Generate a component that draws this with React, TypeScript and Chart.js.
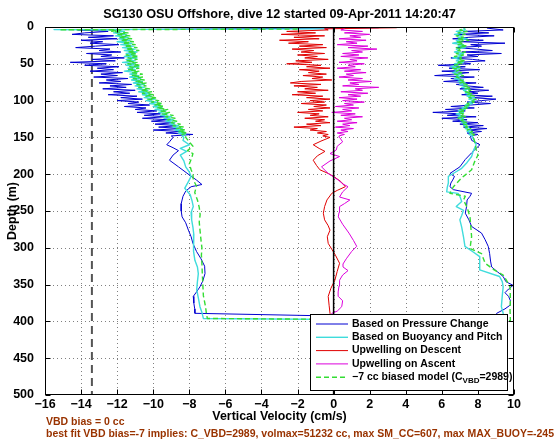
import React, { useEffect, useRef } from "react";
import { Chart, registerables } from "chart.js";

Chart.register(...registerables);

const FONT = '"Liberation Sans", Arial, Helvetica, sans-serif';

const titleText = "SG130 OSU Offshore, dive 12 started 09-Apr-2011 14:20:47";
const xTitle = "Vertical Velocity (cm/s)";
const yTitle = "Depth (m)";
const noteLine1 = "VBD bias = 0 cc";
const noteLine2 = "best fit VBD bias=-7 implies: C_VBD=2989, volmax=51232 cc, max SM_CC=607, max MAX_BUOY=-245";
const legendLabels = [
  "Based on Pressure Change",
  "Based on Buoyancy and Pitch",
  "Upwelling on Descent",
  "Upwelling on Ascent",
  "\u22127 cc biased model (C",
];
const vbdReference = -13.4;

// depth samples (m) of the noisy near-surface part
const noisyDepths = [4, 6, 8, 10, 12, 14, 16, 18, 20, 22, 24, 26, 28, 30, 32, 34, 36, 38, 40, 42, 44, 46, 48, 50, 52, 54, 56, 58, 60, 62, 64, 66, 68, 70, 72, 74, 76, 78, 80, 82, 84, 86, 88, 90, 92, 94, 96, 98, 100, 102, 104, 106, 108, 110, 112, 114, 116, 118, 120, 122, 124, 126, 128, 130, 132, 134, 136, 138, 140, 142, 144, 146, 148];

// ---- Based on Pressure Change (blue)
const blueTop = [[1.0, 2.5]];
const blueDescNoisy = [-14.2, -12.5, -13.8, -14.5, -12.2, -13.6, -12.0, -14.0, -12.8, -13.5,
  -11.9, -13.2, -14.3, -12.4, -13.0, -11.8, -13.7, -12.3, -12.9, -11.6,
  -13.4, -12.1, -14.6, -12.6, -13.8, -11.9, -13.1, -12.2, -13.5, -11.7,
  -12.9, -12.0, -13.3, -11.4, -12.6, -11.8, -13.0, -11.2, -12.4, -11.5,
  -12.8, -11.0, -12.2, -11.3, -12.5, -10.9, -11.8, -10.6, -12.0, -10.8,
  -11.4, -10.2, -11.6, -10.4, -11.0, -9.8, -10.9, -9.6, -10.5, -9.3,
  -10.6, -9.2, -10.1, -8.8, -9.9, -8.6, -9.7, -8.4, -10.0, -8.5,
  -9.3, -7.8, -9.0];
const blueDescSmooth = [[150, -8.9], [156, -9.1], [160, -9.25], [164, -8.9], [168, -8.6], [174, -8.9], [181, -9.1], [190, -8.6], [201, -8.0], [208, -7.6], [214, -7.3], [217, -7.9], [223, -8.2], [230, -8.35], [240, -8.45], [250, -8.45], [258, -8.4], [266, -8.2], [276, -8.05], [285, -7.9], [294, -7.8], [305, -7.6], [315, -7.35], [325, -7.15], [335, -7.13], [345, -7.25], [353, -7.41], [360, -7.6], [366, -7.78], [375, -7.75], [383, -7.7], [389, -7.69]];
const blueAscSmooth = [[150, 7.6], [154, 7.65], [160, 8.11], [165, 7.9], [171, 7.65], [180, 7.3], [190, 7.0], [199, 6.45], [203, 6.7], [208, 6.6], [212, 6.5], [217, 6.45], [221, 6.64], [226, 7.65], [230, 7.56], [235, 7.4], [244, 7.37], [253, 7.3], [262, 7.5], [271, 7.65], [280, 8.2], [289, 8.4], [298, 8.57], [308, 8.65], [318, 8.7], [326, 8.76], [333, 9.1], [339, 9.4], [346, 9.55], [351, 9.95], [356, 9.7], [361, 9.5], [366, 9.7], [372, 9.8], [378, 9.78], [383, 9.5], [389, 9.04], [397, 9.0]];
const blueAscNoisy = [9.4, 7.2, 8.6, 6.9, 8.9, 7.5, 6.6, 8.3, 7.0, 9.5,
  7.6, 8.2, 6.8, 7.9, 8.8, 7.1, 9.3, 7.4, 8.0, 6.5,
  7.7, 8.4, 6.9, 7.6, 5.8, 7.3, 6.4, 8.1, 6.0, 7.5,
  6.7, 5.6, 7.8, 6.5, 7.2, 6.1, 7.9, 6.8, 7.4, 8.3,
  7.0, 8.6, 7.5, 8.0, 7.1, 8.8, 7.6, 9.0, 8.2, 7.4,
  8.7, 7.6, 6.5, 7.8, 6.2, 7.3, 5.5, 7.0, 6.3, 7.9,
  6.0, 7.4, 6.6, 8.0, 7.0, 8.3, 7.2, 8.5, 7.5, 8.2,
  7.4, 8.0, 7.6];
const blueEnd = [[1.5, 8.5]];

// ---- Based on Buoyancy and Pitch (cyan)
const cyanTop = [[2.5, -0.5], [3.5, -15.5]];
const cyanDescNoisy = [-12.4, -11.6, -12.2, -11.5, -12.1, -11.4, -11.9, -11.3, -12.0, -11.2,
  -11.8, -11.1, -11.7, -11.0, -11.6, -10.9, -11.5, -11.0, -11.6, -10.9,
  -11.5, -11.0, -11.7, -11.0, -11.5, -10.8, -11.4, -11.0, -11.6, -10.9,
  -11.3, -10.8, -11.3, -10.7, -11.2, -10.6, -11.1, -10.5, -11.0, -10.5,
  -10.9, -10.3, -10.8, -10.2, -10.6, -10.1, -10.5, -9.9, -10.4, -9.8,
  -10.2, -9.6, -10.0, -9.5, -9.9, -9.3, -9.7, -9.2, -9.6, -9.0,
  -9.4, -8.9, -9.3, -8.8, -9.1, -8.6, -8.9, -8.4, -8.8, -8.3,
  -8.6, -8.2, -8.4];
const cyanDescSmooth = [[150, -8.3], [154, -8.35], [160, -8.0], [165, -8.5], [169, -8.15], [174, -8.5], [182, -8.3], [190, -8.2], [197, -8.0], [203, -7.9], [210, -8.05], [219, -8.25], [228, -7.95], [236, -7.85], [244, -7.78], [252, -7.9], [262, -7.87], [272, -7.8], [282, -7.75], [294, -7.78], [305, -7.75], [317, -7.69], [326, -7.55], [335, -7.5], [346, -7.55], [357, -7.59], [368, -7.5], [380, -7.41], [388, -7.3], [396, -7.22]];
const cyanAscSmooth = [[150, 7.7], [155, 7.8], [160, 7.9], [168, 7.75], [176, 7.65], [184, 7.4], [192, 7.1], [198, 6.7], [203, 6.36], [212, 6.36], [218, 6.3], [224, 6.27], [226, 6.9], [230, 7.0], [237, 7.1], [244, 6.8], [249, 7.2], [256, 7.1], [262, 7.0], [272, 7.1], [285, 7.2], [298, 7.28], [305, 7.7], [312, 8.1], [322, 8.1], [330, 8.1], [339, 9.2], [346, 9.35], [353, 9.4], [365, 9.35], [380, 9.3], [389, 9.4], [399, 9.4]];
const cyanAscNoisy = [7.3, 6.8, 7.2, 6.7, 7.1, 6.9, 7.4, 6.8, 7.0, 6.6,
  7.2, 6.9, 7.3, 6.8, 7.0, 6.7, 7.2, 6.9, 7.1, 6.6,
  7.0, 6.8, 7.2, 6.7, 6.9, 6.5, 7.0, 6.7, 6.9, 6.6,
  7.1, 6.8, 7.0, 6.7, 7.2, 6.9, 7.3, 7.0, 7.4, 7.1,
  7.5, 7.2, 7.4, 7.3, 7.6, 7.4, 7.8, 7.5, 7.8, 7.5,
  7.7, 7.3, 7.5, 7.1, 7.3, 6.9, 7.2, 6.8, 7.1, 6.9,
  7.2, 7.0, 7.3, 7.1, 7.4, 7.2, 7.5, 7.3, 7.6, 7.4,
  7.7, 7.5, 7.7];
const cyanEnd = [[1.5, 7.2]];

// ---- Upwelling on Descent (red)
const redTop = [[1.0, 3.5], [2.5, -0.5]];
const redNoisy = [-0.3, -2.6, -1.0, -2.9, -0.5, -2.2, -0.8, -3.0, -1.4, -2.5,
  -0.6, -1.9, -0.4, -2.3, -1.1, -1.8, -0.5, -2.0, -0.9, -1.6,
  -0.3, -2.1, -1.2, -2.6, -0.7, -1.5, -0.2, -1.9, -0.8, -1.4,
  -0.4, -1.7, -0.6, -1.2, -0.1, -1.8, -2.4, -0.7, -2.2, -0.9,
  -1.6, -0.3, -2.0, -1.0, -2.3, -0.6, -1.5, -0.2, -1.3, -0.5,
  -1.8, -0.4, -1.1, -0.2, -1.4, -0.6, -2.0, -0.8, -1.3, -0.3,
  -1.6, -0.5, -1.0, -0.2, -1.5, -0.7, -2.2, -0.9, -1.3, -0.4,
  -0.9, -0.3, -0.6];
const redSmooth = [[150, -0.2], [155, -0.7], [160, -1.13], [165, -0.8], [169, -0.48], [175, -0.9], [181, -1.13], [188, -0.95], [194, -0.76], [199, -0.3], [203, 0.0], [210, 0.4], [217, 0.65], [222, 0.2], [226, -0.1], [235, -0.37], [244, -0.5], [253, -0.57], [262, -0.5], [270, -0.3], [276, -0.2], [285, -0.35], [294, -0.3], [302, -0.1], [310, 0.1], [321, 0.33], [332, 0.2], [344, 0.07], [355, -0.15], [366, -0.3], [378, -0.25], [389, -0.2], [398, -0.1]];

// ---- Upwelling on Ascent (magenta)
const magentaNoisy = [0.4, 1.6, 0.6, 2.0, 0.9, 1.5, 0.3, 1.8, 0.7, 1.3,
  0.2, 1.9, 0.8, 2.4, 1.0, 1.6, 0.5, 1.4, 0.4, 1.9,
  0.9, 1.3, 0.3, 1.7, 0.8, 1.2, 0.2, 1.5, 0.6, 1.8,
  0.7, 1.1, 0.3, 1.6, 0.8, 2.1, 0.9, 1.4, 0.5, 2.5,
  1.2, 1.6, 0.4, 1.9, 0.8, 1.5, 0.3, 1.3, 0.5, 1.7,
  0.6, 1.1, 0.1, 1.4, 0.5, 1.0, -0.1, 1.2, 0.4, 1.6,
  0.6, 1.0, 0.2, 1.3, 0.5, 0.9, 0.1, 1.1, 0.4, 0.8,
  0.2, 0.6, 0.3];
const magentaSmooth = [[150, 0.33], [156, 0.5], [162, 0.2], [167, 0.15], [172, -0.2], [176, 0.33], [182, -0.2], [190, -0.67], [199, -0.3], [208, 0.26], [213, 0.5], [217, 0.8], [224, 0.5], [231, 0.33], [235, 0.9], [240, 0.6], [244, 0.33], [252, 0.3], [258, 0.26], [268, 0.5], [280, 0.85], [290, 1.1], [298, 1.28], [305, 1.0], [315, 0.7], [322, 0.52], [326, 0.52], [331, 0.8], [337, 0.5], [344, 0.33], [352, 0.3], [360, 0.25], [366, 0.26], [372, 0.5], [380, 0.45], [386, 0.2], [389, -0.1], [398, 0.0]];
const magentaEnd = [[2.5, 0.6]];

// ---- -7 cc biased model (green dashed)
const greenTop = [[2.8, -2.0], [3.8, -15.2]];
const greenDescNoisy = [-11.8, -12.3, -11.4, -12.0, -11.3, -11.9, -11.2, -11.8, -11.1, -11.7,
  -11.0, -11.6, -10.9, -11.5, -10.8, -11.4, -10.9, -11.5, -10.8, -11.4,
  -10.9, -11.5, -10.9, -11.4, -10.7, -11.3, -10.8, -11.4, -10.8, -11.2,
  -10.6, -11.2, -10.6, -11.1, -10.5, -11.0, -10.4, -10.9, -10.4, -10.8,
  -10.2, -10.7, -10.1, -10.6, -10.0, -10.4, -9.8, -10.3, -9.7, -10.1,
  -9.5, -9.9, -9.4, -9.8, -9.2, -9.6, -9.1, -9.5, -8.9, -9.3,
  -8.8, -9.2, -8.7, -9.0, -8.5, -8.9, -8.3, -8.7, -8.2, -8.6,
  -8.1, -8.4, -8.2];
const greenDescSmooth = [[150, -8.2], [156, -8.0], [162, -7.8], [168, -8.1], [172, -7.8], [178, -7.87], [186, -8.0], [194, -7.9], [200, -7.8], [208, -7.78], [216, -7.6], [225, -7.7], [235, -7.55], [245, -7.45], [255, -7.4], [265, -7.45], [278, -7.4], [290, -7.35], [300, -7.3], [310, -7.33], [322, -7.3], [335, -7.28], [350, -7.25], [365, -7.22], [380, -7.1], [390, -7.05], [396, -7.0]];
const greenAscSmooth = [[150, 7.75], [158, 7.85], [166, 7.9], [174, 8.0], [184, 7.8], [194, 7.65], [205, 7.1], [217, 6.64], [226, 6.45], [230, 7.3], [235, 7.2], [245, 7.4], [258, 7.56], [270, 7.6], [285, 7.65], [301, 7.56], [308, 8.2], [321, 8.4], [330, 8.9], [337, 9.4], [345, 9.6], [353, 9.78], [370, 9.8], [385, 9.78], [399, 9.8]];
const greenAscNoisy = [7.0, 7.4, 6.9, 7.3, 6.8, 7.2, 6.9, 7.5, 6.8, 7.2,
  6.9, 7.4, 6.8, 7.1, 6.9, 7.3, 6.8, 7.2, 6.7, 7.1,
  6.9, 7.3, 6.8, 7.1, 6.7, 7.0, 6.6, 7.0, 6.8, 7.1,
  6.7, 7.2, 6.8, 7.1, 7.0, 7.3, 7.0, 7.4, 7.2, 7.6,
  7.3, 7.6, 7.3, 7.7, 7.4, 7.8, 7.5, 7.9, 7.6, 7.8,
  7.4, 7.6, 7.2, 7.4, 7.0, 7.3, 6.9, 7.2, 7.0, 7.3,
  6.9, 7.2, 7.0, 7.4, 7.2, 7.5, 7.3, 7.6, 7.4, 7.7,
  7.5, 7.8, 7.7];
const greenEnd = [[2.0, 7.3]];

const COLORS = {
  blue: "#0000d2",
  cyan: "#3fdcdc",
  red: "#e00000",
  magenta: "#dc00dc",
  green: "#33dd33",
};

type P = { x: number; y: number };
const pts = (pairs: number[][]): P[] => pairs.map(([d, v]) => ({ x: v, y: d }));
const zip = (depths: number[], vals: number[]): P[] => depths.map((d, i) => ({ x: vals[i], y: d }));
const rev = (a: P[]): P[] => a.slice().reverse();

function buildDatasets() {
  const blue = [
    ...pts(blueTop), ...zip(noisyDepths, blueDescNoisy), ...pts(blueDescSmooth),
    ...rev(pts(blueAscSmooth)), ...rev(zip(noisyDepths, blueAscNoisy)), ...pts(blueEnd),
  ];
  const cyan = [
    ...pts(cyanTop), ...zip(noisyDepths, cyanDescNoisy), ...pts(cyanDescSmooth),
    ...rev(pts(cyanAscSmooth)), ...rev(zip(noisyDepths, cyanAscNoisy)), ...pts(cyanEnd),
  ];
  const red = [...pts(redTop), ...zip(noisyDepths, redNoisy), ...pts(redSmooth)];
  const magenta = [...rev(pts(magentaSmooth)), ...rev(zip(noisyDepths, magentaNoisy)), ...pts(magentaEnd)];
  const green = [
    ...pts(greenTop), ...zip(noisyDepths, greenDescNoisy), ...pts(greenDescSmooth),
    ...rev(pts(greenAscSmooth)), ...rev(zip(noisyDepths, greenAscNoisy)), ...pts(greenEnd),
  ];
  const common = { showLine: true, pointRadius: 0, pointHoverRadius: 0, tension: 0, fill: false, borderJoinStyle: "round" as const };
  return [
    { ...common, label: legendLabels[0], data: blue, borderColor: COLORS.blue, borderWidth: 1, order: 5 },
    { ...common, label: legendLabels[1], data: cyan, borderColor: COLORS.cyan, borderWidth: 1.4, order: 4 },
    { ...common, label: legendLabels[2], data: red, borderColor: COLORS.red, borderWidth: 1, order: 3 },
    { ...common, label: legendLabels[3], data: magenta, borderColor: COLORS.magenta, borderWidth: 1, order: 2 },
    { ...common, label: legendLabels[4], data: green, borderColor: COLORS.green, borderWidth: 1.4, borderDash: [5, 3], order: 1 },
    { ...common, label: "zero", data: [{ x: 0, y: 0 }, { x: 0, y: 500 }], borderColor: "#000", borderWidth: 1.5, order: 0 },
    { ...common, label: "vbd", data: [{ x: vbdReference, y: 0 }, { x: vbdReference, y: 500 }], borderColor: "#555555", borderWidth: 2, borderDash: [8, 5], order: 6 },
  ];
}

const decor = {
  id: "decor",
  beforeDatasetsDraw(chart: any) {
    const { ctx, chartArea: a, scales } = chart;
    const x = scales.x, y = scales.y;
    ctx.save();
    ctx.strokeStyle = "#808080";
    ctx.lineWidth = 1;
    ctx.setLineDash([1, 3]);
    for (const t of x.ticks) {
      const px = Math.round(x.getPixelForValue(t.value)) + 0.5;
      if (px <= a.left + 1 || px >= a.right - 1) continue;
      ctx.beginPath(); ctx.moveTo(px, a.top); ctx.lineTo(px, a.bottom); ctx.stroke();
    }
    for (const t of y.ticks) {
      const py = Math.round(y.getPixelForValue(t.value)) + 0.5;
      if (py <= a.top + 1 || py >= a.bottom - 1) continue;
      ctx.beginPath(); ctx.moveTo(a.left, py); ctx.lineTo(a.right, py); ctx.stroke();
    }
    ctx.restore();
  },
  afterDatasetsDraw(chart: any) {
    const { ctx, chartArea: a, scales } = chart;
    const x = scales.x, y = scales.y;
    ctx.save();
    ctx.setLineDash([]);
    ctx.strokeStyle = "#000";
    ctx.lineWidth = 1;
    const L = Math.round(a.left) + 0.5, R = Math.round(a.right) - 0.5;
    const T = Math.round(a.top) + 0.5, B = Math.round(a.bottom) - 0.5;
    ctx.strokeRect(L, T, R - L, B - T);
    const tl = 5;
    for (const t of x.ticks) {
      const px = Math.round(x.getPixelForValue(t.value)) + 0.5;
      ctx.beginPath();
      ctx.moveTo(px, B); ctx.lineTo(px, B - tl);
      ctx.moveTo(px, T); ctx.lineTo(px, T + tl);
      ctx.stroke();
    }
    for (const t of y.ticks) {
      const py = Math.round(y.getPixelForValue(t.value)) + 0.5;
      ctx.beginPath();
      ctx.moveTo(L, py); ctx.lineTo(L + tl, py);
      ctx.moveTo(R, py); ctx.lineTo(R - tl, py);
      ctx.stroke();
    }

    // legend box
    const bx = 310.5, by = 314.5, bw = 197, bh = 76;
    ctx.fillStyle = "#fff";
    ctx.fillRect(bx, by, bw, bh);
    ctx.strokeStyle = "#000";
    ctx.strokeRect(bx, by, bw, bh);
    const ds = chart.data.datasets;
    const font = `bold 10.5px ${FONT}`;
    for (let i = 0; i < 5; i++) {
      const cy = 324 + i * 13.3;
      ctx.save();
      ctx.strokeStyle = ds[i].borderColor;
      ctx.lineWidth = ds[i].borderWidth;
      ctx.setLineDash(ds[i].borderDash || []);
      ctx.beginPath(); ctx.moveTo(316, cy); ctx.lineTo(348, cy); ctx.stroke();
      ctx.restore();
      ctx.fillStyle = "#000";
      ctx.font = font;
      ctx.textBaseline = "middle";
      ctx.textAlign = "left";
      ctx.fillText(legendLabels[i], 352, cy);
      if (i === 4) {
        const w = ctx.measureText(legendLabels[i]).width;
        ctx.font = `bold 8px ${FONT}`;
        ctx.fillText("VBD", 352 + w, cy + 3.5);
        const w2 = ctx.measureText("VBD").width;
        ctx.font = font;
        ctx.fillText("=2989)", 352 + w + w2, cy);
      }
    }
    ctx.restore();
  },
  afterDraw(chart: any) {
    const { ctx, chartArea: a } = chart;
    const cx = (a.left + a.right) / 2;
    ctx.save();
    ctx.fillStyle = "#000";
    ctx.textBaseline = "middle";
    ctx.textAlign = "center";
    ctx.font = `bold 12.7px ${FONT}`;
    ctx.fillText(titleText, cx, 14);
    ctx.font = `bold 12.4px ${FONT}`;
    ctx.fillText(xTitle, cx, 417);
    ctx.save();
    ctx.translate(13, (a.top + a.bottom) / 2);
    ctx.rotate(-Math.PI / 2);
    ctx.fillText(yTitle, 0, 0);
    ctx.restore();
    ctx.fillStyle = "#993300";
    ctx.textAlign = "left";
    ctx.font = `bold 10.5px ${FONT}`;
    ctx.fillText(noteLine1, 46, 422);
    ctx.fillText(noteLine2, 46, 434);
    ctx.restore();
  },
};

export default function App() {
  const ref = useRef<HTMLCanvasElement>(null);
  useEffect(() => {
    document.body.style.margin = "0";
    const tickFont = { family: FONT, size: 12.5, weight: "bold" as const };
    const chart = new Chart(ref.current as HTMLCanvasElement, {
      type: "scatter",
      data: { datasets: buildDatasets() as any },
      options: {
        animation: false,
        responsive: false,
        devicePixelRatio: 1,
        events: [],
        layout: { padding: { left: 0, top: 27, right: 46, bottom: 0 } },
        plugins: { legend: { display: false }, tooltip: { enabled: false }, title: { display: false } },
        scales: {
          x: {
            type: "linear", position: "bottom", min: -16, max: 10,
            grid: { display: false }, border: { display: false },
            ticks: {
              stepSize: 2, autoSkip: false, maxRotation: 0, padding: -6, color: "#000", font: tickFont,
              callback: (v: any) => String(v).replace("-", "\u2212"),
            },
            afterFit: (s: any) => { s.height = 47; },
          },
          y: {
            type: "linear", position: "left", min: 0, max: 500, reverse: true,
            grid: { display: false }, border: { display: false },
            ticks: { stepSize: 50, autoSkip: false, padding: 3, color: "#000", font: tickFont },
            afterFit: (s: any) => { s.width = 45; },
          },
        },
      },
      plugins: [decor],
    });
    return () => chart.destroy();
  }, []);
  return (
    <div style={{ width: 560, height: 442, background: "#fff" }}>
      <canvas ref={ref} width={560} height={442} style={{ display: "block" }} />
    </div>
  );
}
